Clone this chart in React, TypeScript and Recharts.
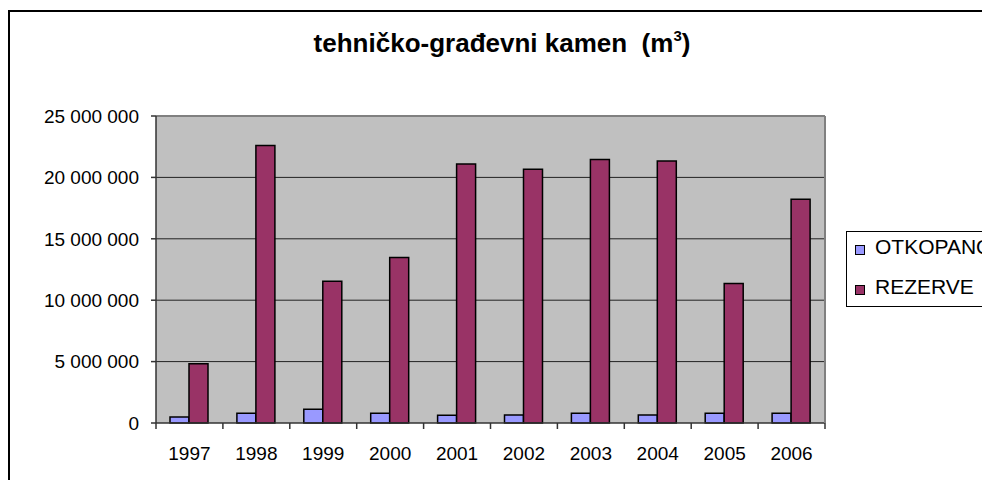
import React from 'react';
import { BarChart, Bar, XAxis, YAxis, CartesianGrid, ReferenceLine, Legend } from 'recharts';

const years = ['1997', '1998', '1999', '2000', '2001', '2002', '2003', '2004', '2005', '2006'];
const otkopano = [490000, 790000, 1120000, 790000, 630000, 650000, 800000, 650000, 800000, 800000];
const rezerve = [4830000, 22600000, 11550000, 13470000, 21100000, 20670000, 21460000, 21330000, 11350000, 18230000];
const yTicks = [0, 5000000, 10000000, 15000000, 20000000, 25000000];
const gridLines = [5000000, 10000000, 15000000, 20000000];
const yMax = 25000000;
const seriesNames = ['OTKOPANO', 'REZERVE'];
const seriesColors = ['#9999FF', '#993366'];

const data = years.map((y, i) => ({ year: y, OTKOPANO: otkopano[i], REZERVE: rezerve[i] }));

const FONT = '"Liberation Sans", Arial, sans-serif';

const fmt = (v: number) => String(v).replace(/\B(?=(\d{3})+(?!\d))/g, ' ');

const XTick = (props: any) => {
  const { x, y, payload, index } = props;
  const half = payload && payload.offset ? payload.offset : 0;
  const last = index === years.length - 1;
  return (
    <g>
      <line x1={x - half} x2={x - half} y1={y} y2={y + 6} stroke="#333" strokeWidth={1.5} />
      {last ? <line x1={x + half} x2={x + half} y1={y} y2={y + 6} stroke="#333" strokeWidth={1.5} /> : null}
      <text x={x} y={y + 37} textAnchor="middle" fontFamily={FONT} fontSize={19} fill="#000">
        {payload.value}
      </text>
    </g>
  );
};

const LegendBox = () => (
  <div
    style={{
      position: 'relative',
      width: 200,
      height: 76,
      border: '1px solid #000',
      background: '#fff',
      boxSizing: 'border-box',
      fontFamily: FONT,
      fontSize: 21,
      color: '#000',
    }}
  >
    {seriesNames.map((n, i) => (
      <div key={n} style={{ position: 'absolute', left: 8, top: 9 + i * 40, height: 24, whiteSpace: 'nowrap' }}>
        <span
          style={{
            position: 'absolute',
            left: 0,
            top: 4,
            width: 10,
            height: 10,
            background: seriesColors[i],
            border: '1px solid #000',
            boxSizing: 'border-box',
          }}
        />
        <span style={{ position: 'absolute', left: 20, top: -6, lineHeight: '24px' }}>{n}</span>
      </div>
    ))}
  </div>
);

export default function App() {
  return (
    <div style={{ position: 'relative', width: 982, height: 472, overflow: 'hidden', background: '#fff' }}>
      <div
        style={{
          position: 'absolute',
          left: 0,
          top: 2,
          width: 1200,
          height: 600,
          border: '2px solid #000',
          boxSizing: 'border-box',
        }}
      />
      <svg width={982} height={70} style={{ position: 'absolute', left: 0, top: 0 }}>
        <text
          x={494}
          y={44}
          textAnchor="middle"
          fontFamily={FONT}
          fontWeight="bold"
          fontSize={26}
          fill="#000"
          style={{ whiteSpace: 'pre' }}
        >
          {'tehničko-građevni kamen  (m'}
          <tspan fontSize={15} dy={-11}>3</tspan>
          <tspan dy={11}>)</tspan>
        </text>
      </svg>
      <div style={{ position: 'absolute', left: 0, top: 0 }}>
        <BarChart
          width={982}
          height={472}
          data={data}
          margin={{ top: 108, right: 164, bottom: 17, left: 48 }}
          barGap={0}
          barSize={19}
        >
          <CartesianGrid
            vertical={false}
            horizontalValues={gridLines}
            fill="#C0C0C0"
            fillOpacity={1}
            stroke="#222"
            strokeWidth={1}
          />
          <ReferenceLine y={yMax} stroke="#808080" strokeWidth={2} />
          <XAxis
            dataKey="year"
            height={40}
            tickLine={false}
            axisLine={false}
            tickSize={0}
            tickMargin={0}
            interval={0}
            tick={<XTick />}
          />
          <YAxis
            width={100}
            domain={[0, yMax]}
            ticks={yTicks}
            tickFormatter={fmt}
            tickSize={5}
            tickMargin={12}
            interval={0}
            tick={{ fill: '#000', fontSize: 19, fontFamily: FONT }}
            tickLine={{ stroke: '#333', strokeWidth: 1.5 }}
            axisLine={{ stroke: '#333', strokeWidth: 1.5 }}
          />
          <YAxis
            yAxisId="right"
            orientation="right"
            width={1}
            domain={[0, yMax]}
            ticks={yTicks}
            tick={false}
            tickLine={false}
            axisLine={{ stroke: '#808080', strokeWidth: 2 }}
          />
          <Bar dataKey="OTKOPANO" fill={seriesColors[0]} stroke="#000" strokeWidth={1.5} isAnimationActive={false} />
          <Bar dataKey="REZERVE" fill={seriesColors[1]} stroke="#000" strokeWidth={1.5} isAnimationActive={false} />
          <ReferenceLine y={0} stroke="#333" strokeWidth={1.5} />
          <Legend
            layout="vertical"
            align="center"
            verticalAlign="middle"
            content={() => <LegendBox />}
            wrapperStyle={{ left: 838, top: 223, width: 200, height: 76 }}
          />
        </BarChart>
      </div>
    </div>
  );
}
